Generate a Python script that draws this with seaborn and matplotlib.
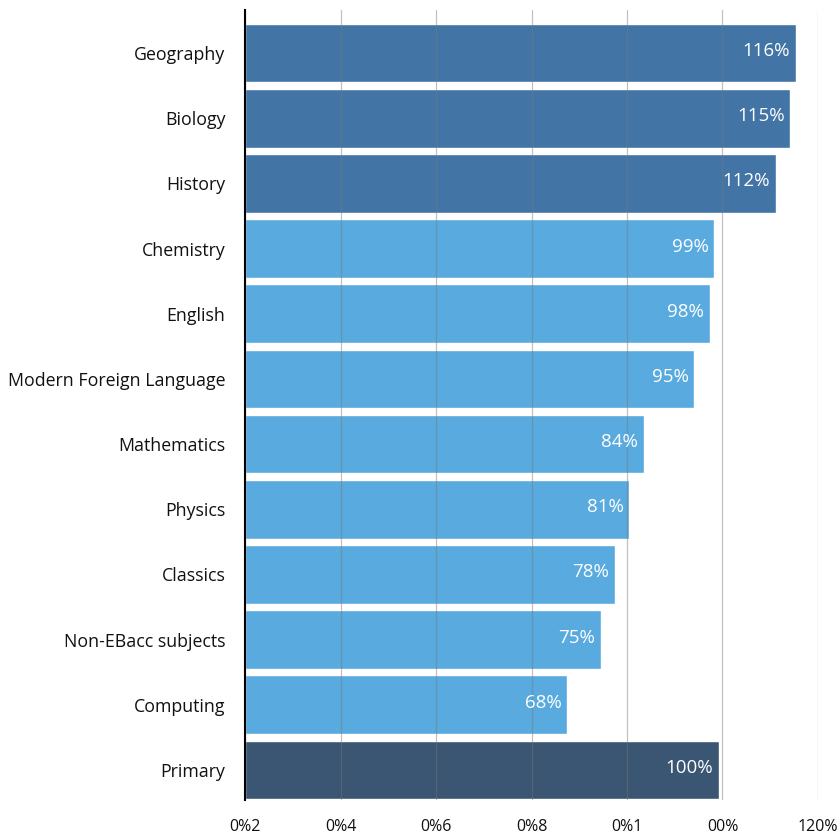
import pandas as pd
import matplotlib.pyplot as plt
import seaborn as sns

subjects = ["Geography", "Biology", "History", "Chemistry", "English",
            "Modern Foreign Language", "Mathematics", "Physics", "Classics",
            "Non-EBacc subjects", "Computing", "Primary"]
values = [115.3, 114.2, 111.2, 98.3, 97.4, 94.1, 83.5, 80.5, 77.5, 74.5, 67.5, 99.3]
value_labels = ["116%", "115%", "112%", "99%", "98%", "95%", "84%", "81%",
                "78%", "75%", "68%", "100%"]
tick_pos = [0, 20, 40, 60, 80, 100, 120]
tick_labels = ["0%2", "0%4", "0%6", "0%8", "0%1", "00%", "120%"]

dark = "#4275a6"
light = "#58aadf"
primary = "#3a5673"
colors = [dark] * 3 + [light] * 8 + [primary]

df = pd.DataFrame({"Subject": subjects, "Value": values})

sns.set_style("white")
plt.rcParams["font.family"] = ["Open Sans", "DejaVu Sans"]

fig = plt.figure(figsize=(8.38, 8.35), dpi=100)
ax = fig.add_axes([0.2924, 0.042, 0.9761 - 0.2924, 0.988 - 0.042])

sns.barplot(data=df, x="Value", y="Subject", hue="Subject",
            palette=dict(zip(subjects, colors)), order=subjects,
            width=0.9, saturation=1, legend=False, ax=ax, zorder=1)

for i, (v, lab) in enumerate(zip(values, value_labels)):
    ax.text(v - 1.2, i - 0.03, lab, ha="right", va="center", color="white",
            fontsize=13.5, zorder=3)

ax.set_xlim(0, 120)
ax.set_ylim(11.46, -0.66)
ax.set_xticks(tick_pos)
ax.set_xticklabels(tick_labels, fontsize=11.5, color="#111111")
ax.tick_params(axis="x", direction="out", length=9, width=0.8, color="#aaaaaa", pad=5)
ax.tick_params(axis="y", length=0, labelsize=12.8, labelcolor="#111111", pad=14)
ax.set_xlabel("")
ax.set_ylabel("")

ax.set_axisbelow(False)
ax.xaxis.grid(True, color="#777777", alpha=0.45, linewidth=0.9, zorder=2)

for s in ["top", "right", "bottom"]:
    ax.spines[s].set_visible(False)
ax.spines["left"].set_color("black")
ax.spines["left"].set_linewidth(1.5)
ax.spines["left"].set_zorder(4)

fig.savefig("out.png", dpi=100)
